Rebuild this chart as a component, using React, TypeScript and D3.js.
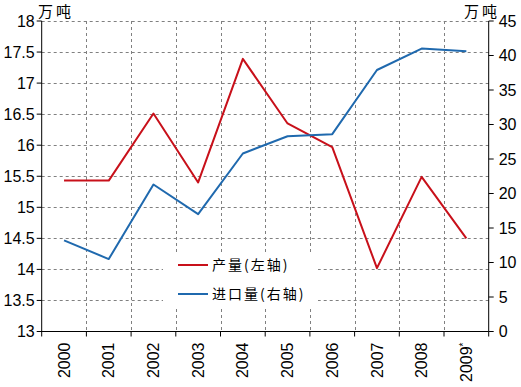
import React from "react";
import * as d3 from "d3";

const years = ["2000", "2001", "2002", "2003", "2004", "2005", "2006", "2007", "2008", "2009*"];
const production = [15.43, 15.43, 16.51, 15.4, 17.39, 16.35, 15.97, 14.02, 15.49, 14.5];
const imports = [13.2, 10.5, 21.3, 17.0, 25.8, 28.3, 28.6, 37.9, 41.0, 40.6];
const leftTicks = [13, 13.5, 14, 14.5, 15, 15.5, 16, 16.5, 17, 17.5, 18];
const rightTicks = [0, 5, 10, 15, 20, 25, 30, 35, 40, 45];
const seriesNames = ["产量(左轴)", "进口量(右轴)"];
const unitLabel = "万吨";

const W = 521, H = 387;
const L = 41.7, R = 488.7, T = 21, B = 331.5;
const RED = "#C8101A", BLUE = "#1F69AE";

export default function App() {
  const x = d3.scaleBand<string>().domain(years).range([L, R]);
  const yL = d3.scaleLinear().domain([13, 18]).range([B, T]);
  const yR = d3.scaleLinear().domain([0, 45]).range([B, T]);
  const cx = (d: string) => (x(d) as number) + x.bandwidth() / 2;
  const lineL = d3.line<number>().x((_, i) => cx(years[i])).y((d) => yL(d));
  const lineR = d3.line<number>().x((_, i) => cx(years[i])).y((d) => yR(d));
  const bounds = years.map((y) => x(y) as number).concat([R]);
  const num = "'Liberation Sans', Arial, sans-serif";
  const cjk = "'Noto Sans CJK SC', sans-serif";
  const grid = { stroke: "#808080", strokeWidth: 1, strokeDasharray: "3,3" };
  const leg = { x0: 163, x1: 318, y0: 255, y1: 307 };
  return (
    <svg width={W} height={H} style={{ position: "absolute", left: 0, top: 0, background: "#fff" }}>
      <rect x={0} y={0} width={W} height={H} fill="#fff" />
      {leftTicks.slice(1).map((t) => (
        <line key={"h" + t} x1={L} x2={R} y1={Math.round(yL(t)) + 0.5} y2={Math.round(yL(t)) + 0.5} {...grid} />
      ))}
      {bounds.slice(1, -1).map((b, i) => (
        <line key={"v" + i} x1={Math.round(b) + 0.5} x2={Math.round(b) + 0.5} y1={T} y2={B} {...grid} />
      ))}
      <rect x={leg.x0} y={leg.y0} width={leg.x1 - leg.x0} height={leg.y1 - leg.y0} fill="#fff" />
      <path d={lineL(production) || ""} fill="none" stroke={RED} strokeWidth={2} strokeLinejoin="round" />
      <path d={lineR(imports) || ""} fill="none" stroke={BLUE} strokeWidth={2} strokeLinejoin="round" />
      <line x1={L} x2={L} y1={T} y2={B} stroke="#000" />
      <line x1={R} x2={R} y1={T} y2={B} stroke="#000" />
      <line x1={L - 1} x2={R} y1={B} y2={B} stroke="#000" />
      {leftTicks.map((t) => (
        <g key={"lt" + t}>
          <line x1={L - 5} x2={L} y1={yL(t)} y2={yL(t)} stroke="#000" />
          <text x={L - 7} y={yL(t)} dy="0.35em" textAnchor="end" fontFamily={num} fontSize={16} fill="#000">
            {t}
          </text>
        </g>
      ))}
      {rightTicks.map((t) => (
        <g key={"rt" + t}>
          <line x1={R} x2={R + 5} y1={yR(t)} y2={yR(t)} stroke="#000" />
          <text x={R + 10} y={yR(t)} dy="0.35em" textAnchor="start" fontFamily={num} fontSize={16} fill="#000">
            {t}
          </text>
        </g>
      ))}
      {bounds.map((b, i) => (
        <line key={"xt" + i} x1={b} x2={b} y1={B} y2={B + 5} stroke="#000" />
      ))}
      {years.map((y) => {
        const star = y.endsWith("*");
        const base = star ? y.slice(0, -1) : y;
        return (
          <text
            key={"xl" + y}
            transform={`translate(${cx(y)},${B + 11}) rotate(-90)`}
            dy="0.35em"
            textAnchor="end"
            fontFamily={num}
            fontSize={16}
            fill="#000"
          >
            {base}
            {star && (
              <tspan fontSize={10} dy="-0.5em">*</tspan>
            )}
          </text>
        );
      })}
      <text x={38} y={17} fontFamily={cjk} fontSize={15} letterSpacing={3} fill="#000">{unitLabel}</text>
      <text x={464} y={17} fontFamily={cjk} fontSize={15} letterSpacing={3} fill="#000">{unitLabel}</text>
      {seriesNames.map((n, i) => {
        const ly = 265 + i * 29;
        return (
          <g key={n}>
            <line x1={178} x2={208} y1={ly} y2={ly} stroke={i === 0 ? RED : BLUE} strokeWidth={2} />
            <text x={212} y={ly} dy="0.35em" fontFamily={cjk} fontSize={14} letterSpacing={2} fill="#000">{n}</text>
          </g>
        );
      })}
    </svg>
  );
}
